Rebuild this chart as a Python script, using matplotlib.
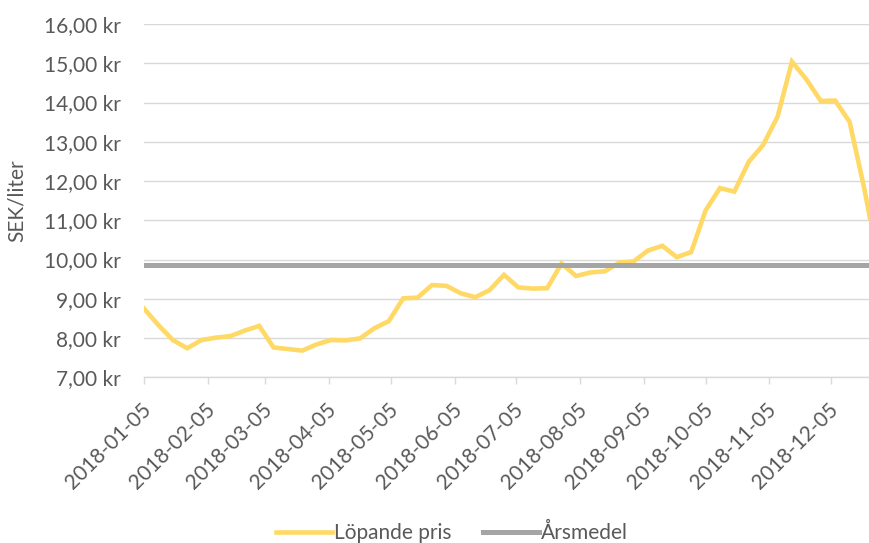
import numpy as np
import pandas as pd
import matplotlib
matplotlib.use("Agg")
import matplotlib.pyplot as plt
import matplotlib.dates as mdates
import matplotlib.transforms as mtransforms
from matplotlib.ticker import FuncFormatter

# löpande pris per vecka (SEK/liter), första veckan 2018-01-05
pris = [8.75, 8.33, 7.95, 7.74, 7.95, 8.01, 8.05, 8.19, 8.31, 7.76,
        7.72, 7.68, 7.84, 7.95, 7.94, 7.99, 8.25, 8.43, 9.01, 9.03,
        9.35, 9.33, 9.14, 9.04, 9.22, 9.61, 9.29, 9.26, 9.27, 9.90,
        9.58, 9.67, 9.70, 9.92, 9.95, 10.23, 10.35, 10.06, 10.19, 11.25,
        11.82, 11.73, 12.49, 12.92, 13.64, 15.04, 14.59, 14.04, 14.05, 13.51,
        11.85, 9.95]
arsmedel = 9.87
datum = pd.date_range("2018-01-05", periods=len(pris), freq="7D")
tick_datum = pd.date_range("2018-01-01", "2018-12-01", freq="MS") + pd.Timedelta(days=4)

textfarg = "#595959"
plt.rcParams["font.family"] = ["Lato", "DejaVu Sans"]
fs = 15

fig = plt.figure(figsize=(8.7, 5.43), dpi=100)
ax = fig.add_axes([144/870, (543-377.3)/543, (870-144)/870, (377.3-24)/543])

ax.plot(datum, pris, color="#FFD966", lw=3.3, solid_joinstyle="miter", label="Löpande pris", zorder=3)
ax.plot(datum, [arsmedel]*len(datum), color="#A5A5A5", lw=3.6, label="Årsmedel", zorder=4)

start = mdates.date2num(pd.Timestamp("2018-01-05"))
ax.set_xlim(start, start + (870-144)/2.057)
ax.set_ylim(7, 16)
ax.set_yticks(np.arange(7, 17, 1))
ax.yaxis.set_major_formatter(FuncFormatter(lambda v, p: f"{v:.2f}".replace(".", ",") + " kr"))
ax.set_xticks(tick_datum)
ax.xaxis.set_major_formatter(mdates.DateFormatter("%Y-%m-%d"))

ax.grid(axis="y", color="#D9D9D9", lw=1.0)
ax.set_axisbelow(True)
for s in ["top", "right", "left"]:
    ax.spines[s].set_visible(False)
ax.spines["bottom"].set_color("#D9D9D9")
ax.spines["bottom"].set_linewidth(1.0)
ax.tick_params(axis="y", length=0, pad=17, labelsize=fs, labelcolor=textfarg)
ax.tick_params(axis="x", length=5, width=1.0, color="#D9D9D9", pad=16, labelsize=fs, labelcolor=textfarg)
offset = mtransforms.ScaledTranslation(4/100, 0, fig.dpi_scale_trans)
for lbl in ax.get_xticklabels():
    lbl.set_rotation(45)
    lbl.set_ha("right")
    lbl.set_va("center")
    lbl.set_rotation_mode("anchor")
    lbl.set_transform(lbl.get_transform() + offset)

ax.set_ylabel("SEK/liter", fontsize=fs, color=textfarg, labelpad=12)

fig.legend(loc="center", bbox_to_anchor=(452/870, 1 - 533/543), ncol=2, frameon=False,
           fontsize=fs, handlelength=2.7, handletextpad=0.1, columnspacing=1.5, labelcolor=textfarg)

fig.savefig("out.png", dpi=100)
